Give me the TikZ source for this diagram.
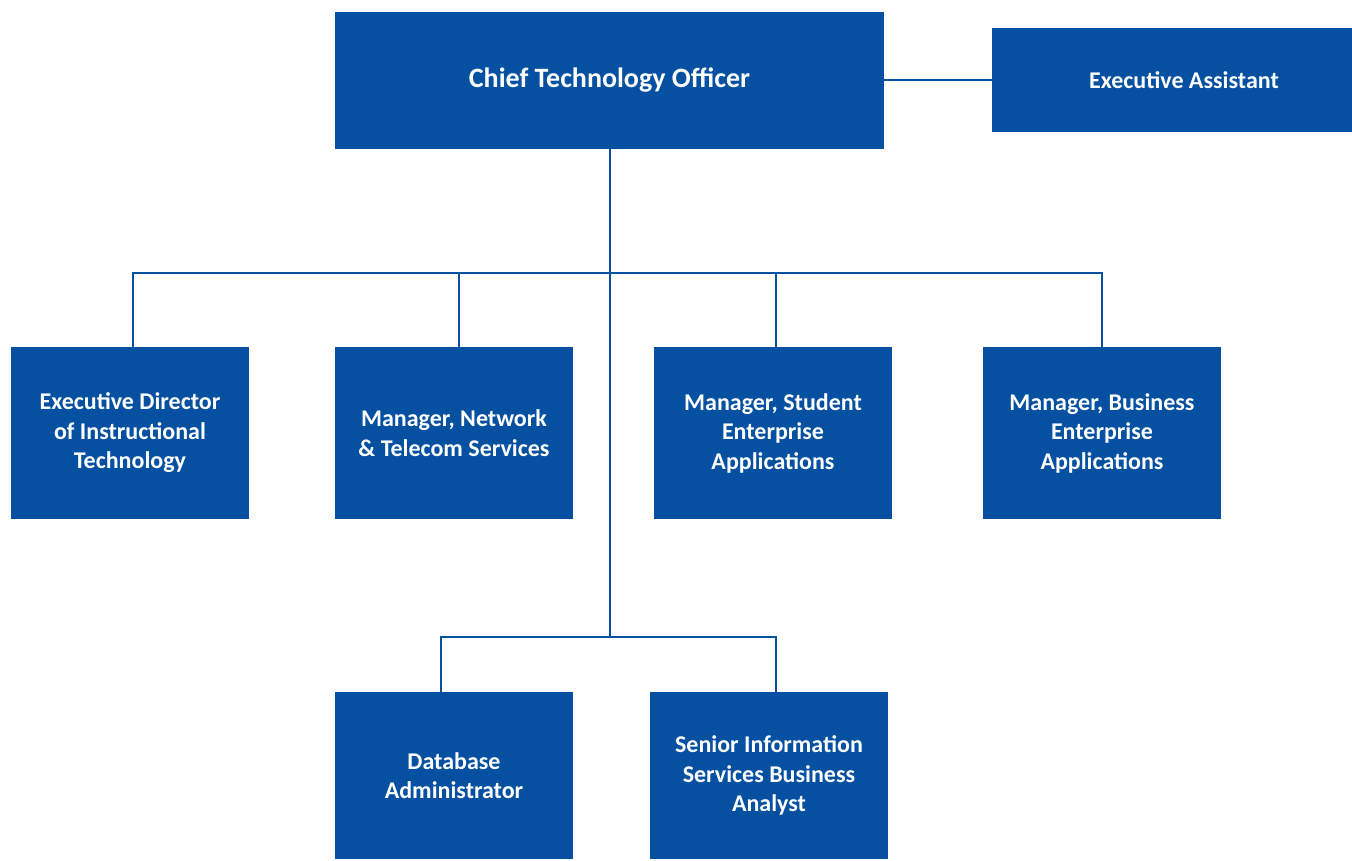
\documentclass[tikz,border=0pt]{standalone}
\usepackage{fontspec}
\setmainfont{Carlito}
\usepackage{tikz}
\definecolor{orgblue}{HTML}{0550A0}
\tikzstyle{box}=[rectangle,fill=orgblue,text=white,font=\bfseries\fontsize{24}{29.5}\selectfont,align=center,inner sep=0pt]
\tikzstyle{link}=[draw=orgblue,line width=2pt]

\begin{document}
\begin{tikzpicture}[x=1pt,y=-1pt]
\useasboundingbox (0,0) rectangle (1352,860);
\clip (0,0) rectangle (1352,860);
\node[box,minimum width=549,minimum height=137,font=\bfseries\fontsize{28}{32}\selectfont] (cto) at (609.5,80) {Chief Technology Officer};
\node[box,minimum width=384,minimum height=104] (ea) at (1184,80) {Executive Assistant};
\node[box,minimum width=238,minimum height=172] (eddir) at (130,433) {Executive Director\\of Instructional\\Technology};
\node[box,minimum width=238,minimum height=172] (mnet) at (454,433) {Manager, Network\\\& Telecom Services};
\node[box,minimum width=238,minimum height=172] (mstud) at (773,433) {Manager, Student\\Enterprise\\Applications};
\node[box,minimum width=238,minimum height=172] (mbus) at (1102,433) {Manager, Business\\Enterprise\\Applications};
\node[box,minimum width=238,minimum height=167] (dba) at (454,775.5) {Database\\Administrator};
\node[box,minimum width=238,minimum height=167] (siba) at (769,775.5) {Senior Information\\Services Business\\Analyst};
\coordinate (hub1) at (609.5,273);
\coordinate (hub2) at (609.5,637);
\draw[link] (cto.east) -- (ea.west);
\draw[link] (cto.south) -- (hub1) -- (hub2);
\draw[link] (hub1) -| ([xshift=3]eddir.north);
\draw[link] (hub1) -| ([xshift=5]mnet.north);
\draw[link] (hub1) -| ([xshift=3]mstud.north);
\draw[link] (hub1) -| (mbus.north);
\draw[link] (hub2) -| ([xshift=-13]dba.north);
\draw[link] (hub2) -| ([xshift=7]siba.north);
\end{tikzpicture}
\end{document}
